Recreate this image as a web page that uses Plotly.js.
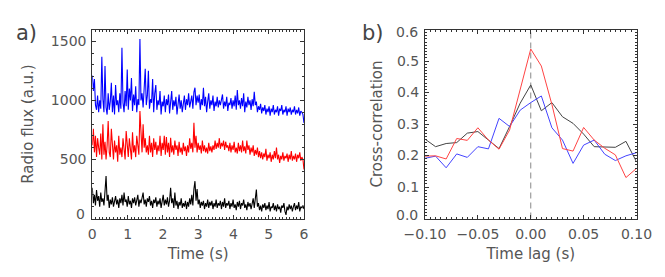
<!DOCTYPE html>
<html>
<head>
<meta charset="utf-8">
<script src="https://cdn.plot.ly/plotly-3.0.1.min.js"></script>
<style>html,body{margin:0;padding:0;background:#fff;}#chart{width:665px;height:277px;}</style>
</head>
<body>
<div id="chart"></div>
<script>
// ---- Panel a) radio flux time series (sampled every 0.03 s, 0..6 s) ----
const sampleStep = 0.03;
const fluxBlue = [
1210,1080,1180,960,920,1040,900,1000,930,1370,
1010,900,1290,940,880,1060,920,990,1150,900,
1040,880,1130,960,1000,900,1060,930,1446,980,
900,1080,950,1262,920,1100,1000,1190,910,1050,
960,1120,900,1010,960,1520,1000,1060,940,1100,
1268,960,1040,1250,930,1010,980,1180,900,1060,
1130,920,1000,960,1080,880,990,950,1040,900,
1010,960,1050,890,980,1080,920,1000,950,1030,
880,990,1050,930,1000,900,970,1040,920,1010,
960,1060,940,1000,1040,930,1070,1107,960,1040,
980,1050,920,1010,960,1107,950,1030,900,990,
1060,930,1000,960,1040,910,990,950,1030,940,
1000,960,1020,1050,930,990,950,1030,910,980,
960,1020,930,1000,950,1040,920,1088,960,1000,
930,1020,950,1060,900,990,940,1030,960,1000,
920,1010,950,1073,960,990,900,950,920,970,
890,940,910,960,880,930,900,950,870,930,
900,960,880,920,900,950,870,930,910,960,
880,920,900,950,870,930,900,940,880,920,
900,950,880,920,890,940,870,910,900,880,
810];
const fluxRed = [
620,760,560,700,520,680,600,540,720,500,
797,540,650,500,620,825,560,520,760,580,
500,660,560,620,480,700,540,600,520,680,
560,500,740,580,520,680,600,500,730,560,
620,520,700,580,540,910,640,560,797,600,
680,560,620,540,700,560,640,520,680,580,
650,540,620,570,700,530,640,580,700,540,
690,560,640,520,684,560,620,540,660,580,
620,530,650,560,600,540,640,570,610,530,
620,560,680,590,640,560,811,600,700,560,
640,580,620,550,660,570,620,560,600,550,
640,570,610,560,620,580,660,590,640,600,
680,590,640,610,660,580,650,600,620,570,
640,560,620,580,650,560,600,550,640,570,
620,560,660,570,610,550,660,580,620,540,
600,560,620,530,580,540,600,520,570,510,
560,500,550,520,590,490,540,510,560,480,
540,500,570,510,600,500,540,470,530,500,
560,490,530,510,550,480,540,500,570,490,
530,500,550,480,540,510,560,490,520,500,
415];
const fluxBlack = [
260,130,200,110,240,150,190,100,220,140,
170,110,230,359,150,200,90,160,120,180,
100,150,190,120,160,90,170,130,200,110,
220,140,160,100,190,120,150,90,170,130,
180,110,150,200,100,160,130,190,220,120,
160,100,170,140,190,110,150,90,160,130,
180,100,150,120,170,90,140,200,110,160,
120,180,100,150,260,130,170,90,220,110,
150,80,140,110,170,90,130,100,150,80,
140,100,170,120,200,110,250,316,150,250,
120,160,90,140,110,150,80,130,100,160,
90,140,110,150,80,130,100,160,90,130,
110,150,80,140,100,170,90,130,110,150,
80,130,100,160,90,120,70,140,100,150,
80,130,110,160,90,120,70,140,100,130,
80,120,170,90,200,245,100,130,70,110,
60,120,90,130,70,110,80,140,60,100,
90,130,70,110,60,120,80,100,50,110,
90,130,60,30,100,70,120,80,110,60,
100,130,70,110,80,140,60,100,90,110,
80];
const timeS = fluxBlue.map((_, i) => +(i * sampleStep).toFixed(3));
const fluxTicks = [0, 500, 1000, 1500];
const fluxTickText = ['', '500', '1000', '1500'];

// ---- Panel b) cross-correlation vs time lag ----
const lagS = [-0.10,-0.09,-0.08,-0.07,-0.06,-0.05,-0.04,-0.03,-0.02,-0.01,0.00,
              0.01,0.02,0.03,0.04,0.05,0.06,0.07,0.08,0.09,0.10];
const ccRed   = [0.198,0.199,0.189,0.254,0.248,0.288,0.249,0.220,0.281,0.410,0.538,
                 0.484,0.362,0.222,0.214,0.289,0.249,0.223,0.202,0.130,0.159];
const ccBlack = [0.252,0.228,0.238,0.241,0.271,0.276,0.249,0.222,0.292,0.366,0.424,
                 0.342,0.368,0.323,0.302,0.268,0.228,0.228,0.226,0.245,0.180];
const ccBlue  = [0.191,0.198,0.161,0.205,0.194,0.228,0.221,0.318,0.292,0.344,0.368,
                 0.389,0.288,0.249,0.175,0.233,0.249,0.204,0.184,0.199,0.209];
const ccTicks = [0, 0.1, 0.2, 0.3, 0.4, 0.5, 0.6];
const ccTickText = ['', '0.1', '0.2', '0.3', '0.4', '0.5', ''];
const zeroLagX = [0, 0];
const zeroLagY = [0, 0.6];

const axisFont = {family: 'DejaVu Sans, sans-serif', size: 14, color: '#555'};
const titleFont = {family: 'DejaVu Sans, sans-serif', size: 15, color: '#555'};
const lineCol = '#333';

const traces = [
  {x: timeS, y: fluxBlue, xaxis: 'x', yaxis: 'y', mode: 'lines', line: {color: '#0000ff', width: 1.1}},
  {x: timeS, y: fluxRed, xaxis: 'x', yaxis: 'y', mode: 'lines', line: {color: '#ff0000', width: 1.1}},
  {x: timeS, y: fluxBlack, xaxis: 'x', yaxis: 'y', mode: 'lines', line: {color: '#000000', width: 1.1}},
  {x: zeroLagX, y: zeroLagY, xaxis: 'x2', yaxis: 'y2', mode: 'lines', line: {color: '#888', width: 1, dash: '6px,4px'}},
  {x: lagS, y: ccBlack, xaxis: 'x2', yaxis: 'y2', mode: 'lines', line: {color: '#444444', width: 1}},
  {x: lagS, y: ccBlue, xaxis: 'x2', yaxis: 'y2', mode: 'lines', line: {color: '#4444ff', width: 1}},
  {x: lagS, y: ccRed, xaxis: 'x2', yaxis: 'y2', mode: 'lines', line: {color: '#ff4444', width: 1}}
];

function ax(extra) {
  return Object.assign({
    showline: true, linecolor: lineCol, linewidth: 1, mirror: 'allticks',
    ticks: 'inside', ticklen: 4, tickcolor: lineCol, tickwidth: 1,
    showgrid: false, zeroline: false, tickfont: axisFont, automargin: false
  }, extra);
}
function minorTicks(d) {
  return {ticks: 'inside', ticklen: 2, tickcolor: lineCol, dtick: d, tick0: 0, showgrid: false};
}

const yDom = [(277 - 218.5) / 277, (277 - 29.5) / 277];

const edgeFont = axisFont;
const layout = {
  width: 665, height: 277,
  margin: {l: 0, r: 0, t: 0, b: 0},
  paper_bgcolor: '#fff', plot_bgcolor: '#fff',
  showlegend: false,
  xaxis: ax({domain: [92.3 / 665, 304 / 665], range: [0, 6], dtick: 1, tick0: 0,
             ticklabelstandoff: 3, minor: minorTicks(0.1),
             title: {text: 'Time (s)', font: titleFont, standoff: 7}, anchor: 'y'}),
  yaxis: ax({domain: yDom, range: [0, 1600], tickmode: 'array', tickvals: fluxTicks, ticktext: fluxTickText,
             ticklabelstandoff: 2, minor: minorTicks(100),
             title: {text: 'Radio flux (a.u.)', font: titleFont, standoff: 13}, anchor: 'x'}),
  xaxis2: ax({domain: [425 / 665, 636.5 / 665], range: [-0.1, 0.1], dtick: 0.05, tick0: 0,
              tickformat: '.2f', ticklabelstandoff: 3, minor: minorTicks(0.005),
              title: {text: 'Time lag (s)', font: titleFont, standoff: 7}, anchor: 'y2'}),
  yaxis2: ax({domain: yDom, range: [0, 0.6], tickmode: 'array', tickvals: ccTicks, ticktext: ccTickText,
              ticklabelstandoff: 2, minor: minorTicks(0.01),
              title: {text: 'Cross-correlation', font: titleFont, standoff: 10}, anchor: 'x2'}),
  annotations: [
    {text: 'a)', xref: 'paper', yref: 'paper', x: 14 / 665, y: (277 - 33) / 277,
     xanchor: 'left', yanchor: 'middle', showarrow: false,
     font: {family: 'DejaVu Sans, sans-serif', size: 21, color: '#444'}},
    {text: 'b)', xref: 'paper', yref: 'paper', x: 360 / 665, y: (277 - 33) / 277,
     xanchor: 'left', yanchor: 'middle', showarrow: false,
     font: {family: 'DejaVu Sans, sans-serif', size: 21, color: '#444'}},
    // edge tick labels, nudged inside the frame as in the original
    {text: '0', xref: 'paper', yref: 'y', x: 87 / 665, y: fluxTicks[0], yshift: 5,
     xanchor: 'right', yanchor: 'middle', showarrow: false, font: edgeFont},
    {text: '0.0', xref: 'paper', yref: 'y2', x: 419.5 / 665, y: ccTicks[0], yshift: 4,
     xanchor: 'right', yanchor: 'middle', showarrow: false, font: edgeFont},
    {text: '0.6', xref: 'paper', yref: 'y2', x: 419.5 / 665, y: ccTicks[6], yshift: -3,
     xanchor: 'right', yanchor: 'middle', showarrow: false, font: edgeFont}
  ]
};

Plotly.newPlot('chart', traces, layout, {staticPlot: true, displayModeBar: false});
</script>
</body>
</html>
